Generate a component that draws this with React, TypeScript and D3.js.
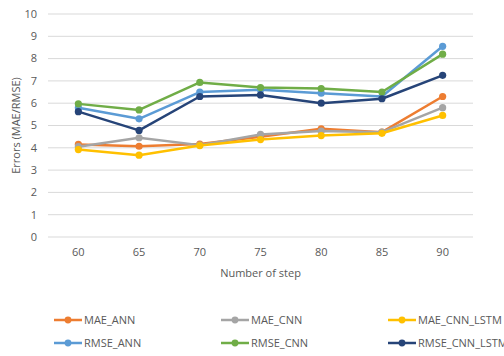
import React from "react";
import * as d3 from "d3";

const steps = [60, 65, 70, 75, 80, 85, 90];
const yTicks = [0, 1, 2, 3, 4, 5, 6, 7, 8, 9, 10];

const maeAnn = [4.15, 4.07, 4.17, 4.5, 4.85, 4.7, 6.3];
const maeCnn = [4.05, 4.45, 4.12, 4.6, 4.75, 4.7, 5.8];
const maeCnnLstm = [3.92, 3.67, 4.1, 4.37, 4.55, 4.65, 5.45];
const rmseAnn = [5.8, 5.3, 6.5, 6.6, 6.45, 6.3, 8.55];
const rmseCnn = [5.97, 5.7, 6.93, 6.7, 6.66, 6.5, 8.2];
const rmseCnnLstm = [5.62, 4.78, 6.3, 6.37, 6.0, 6.2, 7.25];

const seriesNames = ["MAE_ANN", "MAE_CNN", "MAE_CNN_LSTM", "RMSE_ANN", "RMSE_CNN", "RMSE_CNN_LSTM"];
const seriesColors = ["#ED7D31", "#A5A5A5", "#FFC000", "#5B9BD5", "#70AD47", "#264478"];

export default function App() {
  const W = 504, H = 356;
  const left = 48, right = 473, top = 14, bottom = 237;
  const font = "'Open Sans', 'Liberation Sans', sans-serif";
  const textColor = "#595959";

  const x = d3.scaleBand<number>().domain(steps).range([left, right]).padding(0);
  const cx = (v: number) => (x(v) as number) + x.bandwidth() / 2;
  const y = d3.scaleLinear().domain([0, 10]).range([bottom, top]);

  const allSeries = [maeAnn, maeCnn, maeCnnLstm, rmseAnn, rmseCnn, rmseCnnLstm];
  const line = d3.line<number>().x((_, i) => cx(steps[i])).y((d) => y(d));

  // draw order: MAE on top? Draw RMSE first then MAE
  const order = [3, 4, 5, 0, 1, 2];

  const legendCols = [54, 221, 388];
  const legendRows = [320, 343];

  return (
    <svg width={W} height={H} style={{ position: "absolute", left: 0, top: 0, background: "#fff" }}>
      <rect x={0} y={0} width={W} height={H} fill="#fff" />
      {yTicks.map((t) => (
        <g key={t}>
          <line x1={left} x2={right} y1={y(t)} y2={y(t)} stroke="#D9D9D9" strokeWidth={1} />
          <text x={37} y={y(t)} dy="0.35em" textAnchor="end" fontFamily={font} fontSize={11} fill={textColor}>
            {t}
          </text>
        </g>
      ))}
      {steps.map((s) => (
        <text key={s} x={cx(s)} y={256} textAnchor="middle" fontFamily={font} fontSize={11} fill={textColor}>
          {s}
        </text>
      ))}
      <text x={(left + right) / 2} y={277} textAnchor="middle" fontFamily={font} fontSize={11} fill={textColor}>
        Number of step
      </text>
      <text
        transform={`translate(16, ${(top + bottom) / 2}) rotate(-90)`}
        textAnchor="middle"
        dy="0.35em"
        fontFamily={font}
        fontSize={11}
        fill={textColor}
      >
        Errors (MAE/RMSE)
      </text>
      {order.map((k) => (
        <g key={seriesNames[k]}>
          <path d={line(allSeries[k]) as string} fill="none" stroke={seriesColors[k]} strokeWidth={2.5} strokeLinejoin="round" />
          {allSeries[k].map((v, i) => (
            <circle key={i} cx={cx(steps[i])} cy={y(v)} r={3.6} fill={seriesColors[k]} />
          ))}
        </g>
      ))}
      {seriesNames.map((name, k) => {
        const lx = legendCols[k % 3];
        const ly = legendRows[Math.floor(k / 3)];
        return (
          <g key={name}>
            <line x1={lx} x2={lx + 28} y1={ly} y2={ly} stroke={seriesColors[k]} strokeWidth={2.5} />
            <circle cx={lx + 14} cy={ly} r={3.4} fill={seriesColors[k]} />
            <text x={lx + 30} y={ly} dy="0.35em" fontFamily={font} fontSize={11} fill={textColor}>
              {name}
            </text>
          </g>
        );
      })}
    </svg>
  );
}
